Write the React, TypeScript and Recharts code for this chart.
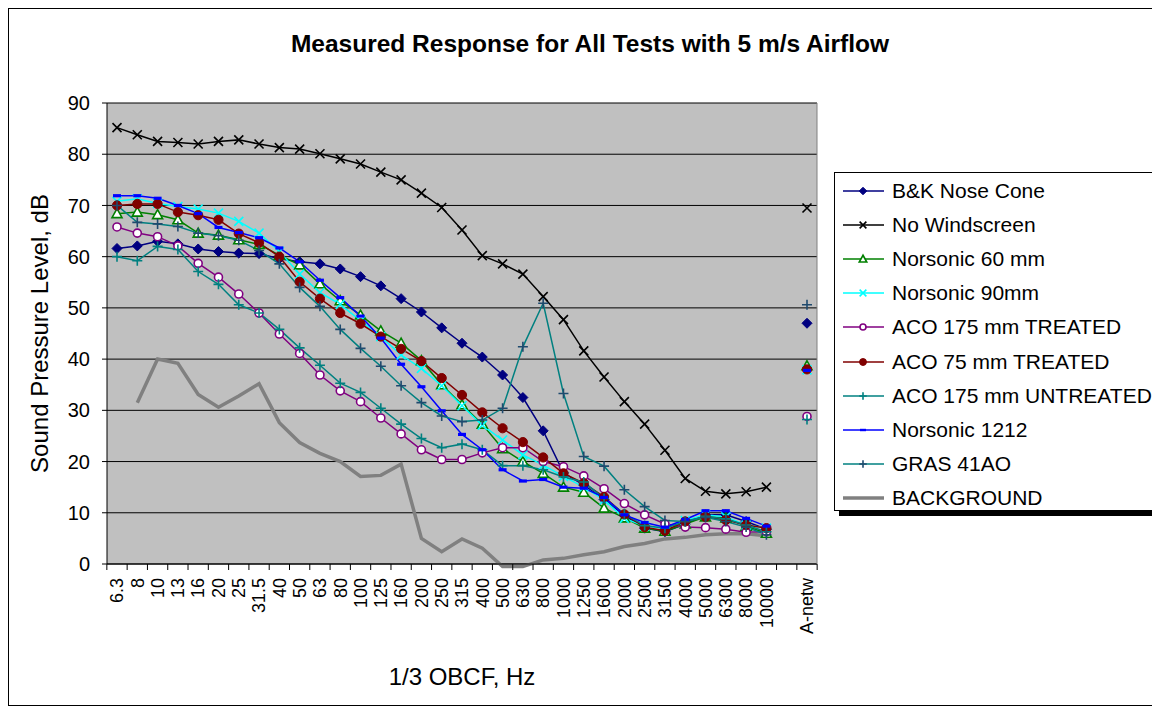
import React from 'react';
import { LineChart, Line, XAxis, YAxis, CartesianGrid, Legend } from 'recharts';

// 1/3 octave band centre frequencies, a gap, then the A-weighted total
const categories = [
  '6.3', '8', '10', '13', '16', '20', '25', '31.5', '40', '50', '63', '80', '100', '125', '160',
  '200', '250', '315', '400', '500', '630', '800', '1000', '1250', '1600', '2000', '2500',
  '3150', '4000', '5000', '6300', '8000', '10000', '', 'A-netw',
];

const yTicks = [0, 10, 20, 30, 40, 50, 60, 70, 80, 90];

const bkNoseCone = [
  61.6, 62.1, 63.0, 62.5, 61.5, 61.0, 60.7, 60.6, 59.6, 59.0, 58.6, 57.6, 56.1, 54.3, 51.8,
  49.2, 46.1, 43.1, 40.4, 36.9, 32.5, 26.0, 17.8, 15.4, 12.6, 9.5, 7.0, 6.3, 7.8, 9.6, 9.6,
  8.3, 6.8, null, 47.0,
];
const noWindscreen = [
  85.2, 83.8, 82.5, 82.3, 82.0, 82.5, 82.8, 82.0, 81.3, 81.0, 80.1, 79.1, 78.1, 76.5, 75.0,
  72.4, 69.6, 65.2, 60.2, 58.6, 56.6, 52.2, 47.7, 41.6, 36.5, 31.7, 27.3, 22.2, 16.7, 14.2,
  13.7, 14.1, 15.0, null, 69.5,
];
const norsonic60 = [
  68.4, 68.7, 68.2, 67.2, 64.6, 64.2, 63.3, 62.4, 60.3, 58.4, 54.7, 51.4, 48.6, 45.5, 43.1,
  39.7, 35.0, 31.1, 27.3, 22.5, 20.0, 17.7, 15.0, 14.0, 10.9, 9.0, 7.0, 6.4, 7.8, 9.2, 9.0,
  7.4, 6.0, null, 38.7,
];
const norsonic90 = [
  70.8, 71.3, 70.4, 69.8, 69.3, 68.5, 66.9, 64.6, 61.0, 56.6, 53.0, 50.7, 47.5, 44.4, 40.8,
  38.2, 34.8, 30.9, 27.1, 24.2, 21.3, 19.3, 17.1, 15.0, 12.5, 8.9, 7.4, 7.0, 8.5, 9.6, 9.2,
  7.6, 7.0, null, 37.9,
];
const aco175Treated = [
  65.8, 64.6, 63.9, 62.1, 58.7, 56.0, 52.7, 49.0, 44.9, 41.1, 36.9, 33.8, 31.7, 28.5, 25.4,
  22.3, 20.4, 20.4, 21.7, 22.7, 22.7, 20.0, 19.0, 17.2, 14.7, 11.8, 9.6, 7.8, 7.2, 7.1, 6.8,
  6.2, 6.3, null, 28.8,
];
const aco75Treated = [
  70.0, 70.3, 70.3, 68.7, 68.1, 67.2, 64.5, 62.7, 60.0, 55.1, 51.8, 49.0, 46.9, 44.4, 42.0,
  39.6, 36.3, 33.0, 29.6, 26.5, 23.8, 20.8, 17.7, 15.8, 13.1, 9.7, 7.2, 6.5, 8.3, 9.2, 8.6,
  7.6, 7.0, null, 38.0,
];
const aco175Untreated = [
  60.0, 59.2, 62.0, 61.4, 57.1, 54.6, 50.6, 49.0, 45.8, 42.2, 38.8, 35.3, 33.5, 30.4, 27.3,
  24.5, 22.7, 23.4, 22.3, 19.2, 19.2, 18.4, 17.0, 16.0, 12.8, 9.8, 7.5, 7.0, 8.3, 9.3, 8.8,
  7.6, 6.3, null, 28.2,
];
const norsonic1212 = [
  71.9, 71.9, 71.4, 70.0, 68.4, 65.7, 64.7, 63.7, 61.7, 59.0, 55.4, 52.0, 48.4, 44.1, 39.0,
  34.6, 29.9, 25.3, 22.3, 18.4, 16.2, 16.5, 15.0, 14.8, 13.0, 9.6, 8.1, 7.2, 8.7, 10.4, 10.4,
  8.9, 7.4, null, 37.8,
];
const gras41AO = [
  70.0, 66.7, 66.4, 65.9, 64.6, 64.1, 63.2, 61.2, 58.6, 54.0, 50.3, 45.8, 42.1, 38.6, 34.8,
  31.5, 28.9, 27.8, 28.1, 30.4, 42.4, 50.9, 33.3, 21.0, 19.1, 14.5, 11.2, 8.5, 8.3, 9.1, 8.3,
  7.2, 5.7, null, 50.6,
];
const background = [
  null, 31.5, 40.0, 39.2, 33.1, 30.6, 32.8, 35.2, 27.6, 23.7, 21.6, 20.0, 17.1, 17.3, 19.5,
  5.0, 2.4, 4.9, 3.1, -0.5, -0.5, 0.8, 1.1, 1.8, 2.4, 3.4, 4.0, 4.9, 5.2, 5.7, 5.9, 5.9, 5.5,
  null, null,
];

type MarkerKind = 'diamond' | 'x' | 'triangle' | 'circleOpen' | 'circle' | 'plus' | 'dash' | 'none';

const series: { key: string; name: string; values: (number | null)[]; color: string; markerColor: string; marker: MarkerKind; width: number; axis: string | number }[] = [
  { key: 'bk', name: 'B&K Nose Cone', values: bkNoseCone, color: '#000080', markerColor: '#000080', marker: 'diamond', width: 1.5, axis: 0 },
  { key: 'nows', name: 'No Windscreen', values: noWindscreen, color: '#000000', markerColor: '#000000', marker: 'x', width: 1.5, axis: 0 },
  { key: 'n60', name: 'Norsonic 60 mm', values: norsonic60, color: '#008000', markerColor: '#008000', marker: 'triangle', width: 1.5, axis: 0 },
  { key: 'n90', name: 'Norsonic 90mm', values: norsonic90, color: '#00ffff', markerColor: '#00ffff', marker: 'x', width: 1.5, axis: 0 },
  { key: 'a175t', name: 'ACO 175 mm TREATED', values: aco175Treated, color: '#800080', markerColor: '#800080', marker: 'circleOpen', width: 1.5, axis: 0 },
  { key: 'a75t', name: 'ACO 75 mm TREATED', values: aco75Treated, color: '#800000', markerColor: '#800000', marker: 'circle', width: 1.5, axis: 0 },
  { key: 'a175u', name: 'ACO 175 mm UNTREATED', values: aco175Untreated, color: '#008080', markerColor: '#008080', marker: 'plus', width: 1.5, axis: 0 },
  { key: 'n1212', name: 'Norsonic 1212', values: norsonic1212, color: '#0000ff', markerColor: '#0000ff', marker: 'dash', width: 1.5, axis: 0 },
  { key: 'gras', name: 'GRAS 41AO', values: gras41AO, color: '#008080', markerColor: '#1f4a6e', marker: 'plus', width: 1.5, axis: 0 },
  // background dips just under 0 dB, so it sits on the unclipped right axis
  { key: 'bg', name: 'BACKGROUND', values: background, color: '#808080', markerColor: '#808080', marker: 'none', width: 3.5, axis: 'r' },
];

const rows = categories.map((cat, i) => {
  const row: Record<string, string | number | null> = { cat };
  series.forEach((s) => {
    row[s.key] = s.values[i];
  });
  return row;
});

const FONT = '"Liberation Sans", Arial, sans-serif';
const PLOT_W = 710;
const PLOT_H = 461;
const X_PAD = 10;
const HALF_STEP = (PLOT_W - 2 * X_PAD) / (categories.length - 1) / 2;

// right axis domain grows to the data minimum; stretch its range so 1 dB matches the left axis
const bgMin = Math.min(0, ...background.filter((v): v is number => v != null));
const RIGHT_PAD_BOTTOM = (bgMin * PLOT_H) / 90;

function markerShape(kind: MarkerKind, color: string, cx: number, cy: number, s: number) {
  switch (kind) {
    case 'diamond':
      return <polygon points={`${cx},${cy - 5 * s} ${cx + 5 * s},${cy} ${cx},${cy + 5 * s} ${cx - 5 * s},${cy}`} fill={color} stroke={color} strokeWidth={1} />;
    case 'x': {
      const d = 4.5 * s;
      return <path d={`M${cx - d},${cy - d}L${cx + d},${cy + d}M${cx - d},${cy + d}L${cx + d},${cy - d}`} stroke={color} strokeWidth={1.6} fill="none" />;
    }
    case 'triangle':
      return <polygon points={`${cx},${cy - 5 * s} ${cx + 5 * s},${cy + 4 * s} ${cx - 5 * s},${cy + 4 * s}`} fill="#fff" stroke={color} strokeWidth={1.6} />;
    case 'circleOpen':
      return <circle cx={cx} cy={cy} r={4 * s} fill="#fff" stroke={color} strokeWidth={1.6} />;
    case 'circle':
      return <circle cx={cx} cy={cy} r={4.6 * s} fill={color} stroke={color} strokeWidth={1} />;
    case 'plus': {
      const d = 5 * s;
      return <path d={`M${cx - d},${cy}H${cx + d}M${cx},${cy - d}V${cy + d}`} stroke={color} strokeWidth={1.6} fill="none" />;
    }
    case 'dash':
      return <rect x={cx - 4 * s} y={cy - 1.6 * s} width={8 * s} height={3.2 * s} fill={color} />;
    default:
      return null;
  }
}

const renderDot = (kind: MarkerKind, color: string) => (props: any) => {
  const { cx, cy, index } = props;
  if (cx == null || cy == null || Number.isNaN(cy)) return <g key={`d-${index}`} />;
  return <g key={`d-${index}`}>{markerShape(kind, color, cx, cy, 1)}</g>;
};

// tick marks sit between categories, labels are rotated under each category
const CategoryTick = (props: any) => {
  const { x, y, payload, index } = props;
  const last = index === categories.length - 1;
  return (
    <g>
      <line x1={x - HALF_STEP} x2={x - HALF_STEP} y1={y} y2={y + 6} stroke="#000" />
      {last && <line x1={x + HALF_STEP} x2={x + HALF_STEP} y1={y} y2={y + 6} stroke="#000" />}
      <text
        transform={`translate(${x},${y + 14}) rotate(-90)`}
        textAnchor="end"
        dy="0.35em"
        fontSize={18}
        fontFamily={FONT}
        fill="#000"
      >
        {payload.value}
      </text>
    </g>
  );
};

const LegendBox = () => (
  <div
    style={{
      width: 319,
      height: 336,
      border: '1px solid #000',
      boxShadow: '5px 5px 0 #000',
      background: '#fff',
      paddingTop: 1,
      boxSizing: 'content-box',
    }}
  >
    {series.map((s) => (
      <div key={s.key} style={{ height: 34.1, display: 'flex', alignItems: 'center' }}>
        <svg width={57} height={20} style={{ flex: 'none' }}>
          <line x1={8} x2={49} y1={10} y2={10} stroke={s.color} strokeWidth={s.marker === 'none' ? 3.5 : 1.5} />
          {markerShape(s.marker, s.markerColor, 28, 10, 0.75)}
        </svg>
        <span style={{ fontSize: 21, fontFamily: FONT, color: '#000', whiteSpace: 'nowrap' }}>{s.name}</span>
      </div>
    ))}
  </div>
);

export default function App() {
  return (
    <div
      style={{
        position: 'relative',
        width: 1150,
        height: 696,
        border: '1px solid #000',
        background: '#fff',
        fontFamily: FONT,
      }}
    >
      <div
        style={{
          position: 'absolute',
          top: 22,
          left: 6,
          width: 1150,
          textAlign: 'center',
          fontSize: 24.5,
          lineHeight: '26px',
          fontWeight: 'bold',
          fontFamily: FONT,
        }}
      >
        Measured Response for All Tests with 5 m/s Airflow
      </div>
      <LineChart width={1150} height={696} data={rows} margin={{ top: 94, right: 341, bottom: 11, left: 0 }}>
        <CartesianGrid vertical={false} horizontal stroke="#000" fill="#c0c0c0" fillOpacity={1} />
        <XAxis
          dataKey="cat"
          interval={0}
          padding={{ left: X_PAD, right: X_PAD }}
          height={130}
          tickLine={false}
          tickSize={0}
          tickMargin={0}
          axisLine={{ stroke: '#000' }}
          tick={<CategoryTick />}
          label={{ value: '1/3 OBCF, Hz', position: 'insideBottom', offset: 9, fontSize: 24, fill: '#000', fontFamily: FONT }}
        />
        <YAxis
          domain={[0, 90]}
          ticks={yTicks}
          width={98}
          interval={0}
          axisLine={{ stroke: '#000' }}
          tickLine={{ stroke: '#000' }}
          tickSize={5}
          tickMargin={12}
          tick={{ fill: '#000', fontSize: 20, fontFamily: FONT }}
          label={{
            value: 'Sound Pressure Level, dB',
            angle: -90,
            position: 'insideLeft',
            offset: 30,
            fontSize: 24,
            fill: '#000',
            fontFamily: FONT,
            style: { textAnchor: 'middle' },
          }}
        />
        <YAxis
          yAxisId="r"
          orientation="right"
          domain={[0, 90]}
          padding={{ top: 0, bottom: RIGHT_PAD_BOTTOM }}
          width={1}
          tick={false}
          tickLine={false}
          axisLine={{ stroke: '#808080' }}
        />
        {series.map((s) => (
          <Line
            key={s.key}
            yAxisId={s.axis}
            type="linear"
            dataKey={s.key}
            name={s.name}
            stroke={s.color}
            strokeWidth={s.width}
            dot={s.marker === 'none' ? false : renderDot(s.marker, s.markerColor)}
            activeDot={false}
            isAnimationActive={false}
          />
        ))}
        <Legend
          layout="horizontal"
          verticalAlign="middle"
          align="center"
          wrapperStyle={{ left: 825, top: 163, width: 330 }}
          content={() => <LegendBox />}
        />
      </LineChart>
    </div>
  );
}
